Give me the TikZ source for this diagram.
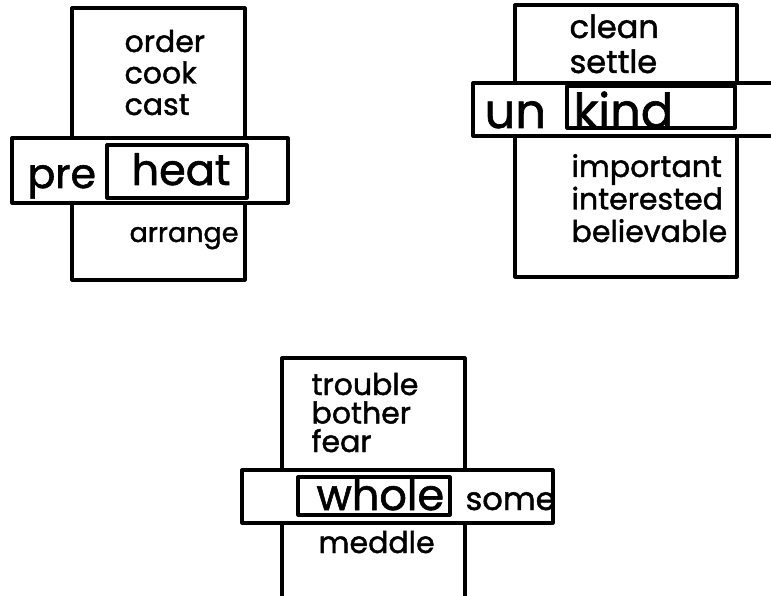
\documentclass[tikz,border=0pt]{standalone}
\usepackage{fontspec}
\setmainfont{Poppins}[FakeBold=1.4]
\begin{document}
\begin{tikzpicture}[x=1pt,y=-1pt,line width=3.2pt,
  word/.style={anchor=base west,inner sep=0pt,font=\fontsize{30}{30}\selectfont},
  stem/.style={anchor=base west,inner sep=0pt,font=\fontsize{43}{43}\selectfont},
  frame/.style={draw,line join=round}]
\useasboundingbox (0,0) rectangle (771,596);
\clip (0,0) rectangle (771,596);

% pre- heat
\draw[frame] (72,8) rectangle (245,280);
\draw[frame,fill=white] (12,138) rectangle (288,203);
\draw[frame] (107,145) rectangle (247,198);
\foreach \w [count=\i from 0] in {order,cook,cast}
  \node[word] (\w) at (123,52+31.5*\i) {\w};
\node[stem,font=\fontsize{41}{41}\selectfont] (pre) at (26,188) {pre};
\node[stem] (heat) at (130,185) {heat};
\node[word,font=\fontsize{27}{27}\selectfont] (arrange) at (128,242) {arrange};

% un- kind
\draw[frame] (515,5) rectangle (737,277);
\fill[white] (473,83) rectangle (771,136);
\draw[frame] (771,83) -- (473,83) -- (473,136) -- (771,136);
\draw[frame] (567,86) rectangle (735,128);
\foreach \w [count=\i from 0] in {clean,settle}
  \node[word,font=\fontsize{32}{32}\selectfont] (\w) at (568,38+35*\i) {\w};
\node[stem,font=\fontsize{48}{48}\selectfont] (un) at (483,128) {un};
\node[stem,font=\fontsize{48}{48}\selectfont] (kind) at (572,128) {kind};
\foreach \w [count=\i from 0] in {important,interested,believable}
  \node[word] (\w) at (570,177+32.5*\i) {\w};

% whole -some
\draw[frame] (282,596) -- (282,358) -- (465,358) -- (465,596);
\draw[frame,fill=white] (242,470) rectangle (553,523);
\draw[frame] (298,477) rectangle (450,515);
\foreach \w [count=\i from 0] in {trouble,bother,fear}
  \node[word] (\w) at (310,395+28.5*\i) {\w};
\node[stem] (whole) at (315,510) {whole};
\node[word,font=\fontsize{32}{32}\selectfont] (some) at (464,510) {some};
\node[word] (meddle) at (317,553) {meddle};
\end{tikzpicture}
\end{document}
